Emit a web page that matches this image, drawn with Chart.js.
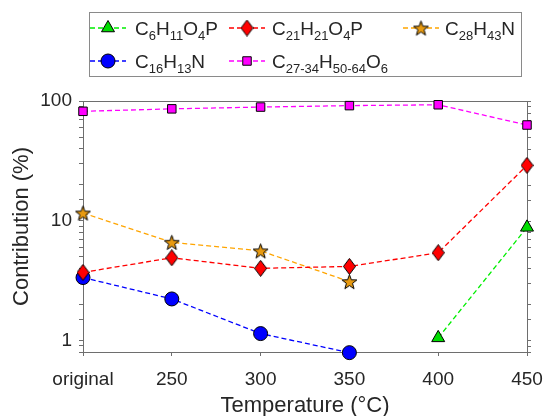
<!DOCTYPE html>
<html>
<head>
<meta charset="utf-8">
<script src="https://cdn.jsdelivr.net/npm/chart.js@4.4.1/dist/chart.umd.min.js"></script>
<style>
  html, body { margin: 0; padding: 0; background: #fff; }
  #caixa { width: 545px; height: 416px; position: relative; }
</style>
</head>
<body>
<div id="caixa"><canvas id="grafico"></canvas></div>
<script>
// dados
const categorias = ["original", "250", "300", "350", "400", "450"];
const c6h11o4p  = [null, null, null, null, 1.05, 8.8];
const c21h21o4p = [3.7, 4.9, 4.0, 4.15, 5.4, 29];
const c28h43n   = [11.6, 6.6, 5.6, 3.1, null, null];
const c16h13n   = [3.35, 2.22, 1.14, 0.79, null, null];
const c27h50o6  = [82, 86, 89, 91.5, 93, 63];
const rotulosY  = [1, 10, 100];

const fonte = "'Liberation Sans', Arial, Helvetica, sans-serif";
const corTexto = "#262626";
const corEixo = "#6e6e6e";

// marcadores próprios (losango e estrela)
function marcaLosango(cor) {
  const c = document.createElement("canvas");
  const w = 13, h = 17;
  c.width = w; c.height = h;
  const g = c.getContext("2d");
  g.beginPath();
  g.moveTo(w / 2, 0.5); g.lineTo(w - 0.5, h / 2); g.lineTo(w / 2, h - 0.5); g.lineTo(0.5, h / 2);
  g.closePath();
  g.fillStyle = cor; g.fill();
  g.strokeStyle = "#000"; g.lineWidth = 1; g.stroke();
  return c;
}
function marcaEstrela(cor) {
  const c = document.createElement("canvas");
  const s = 17;
  c.width = s; c.height = s;
  const g = c.getContext("2d");
  const cx = s / 2, cy = s / 2 + 0.8, rExt = 7.8, rInt = 3.2;
  g.beginPath();
  for (let i = 0; i < 10; i++) {
    const r = i % 2 === 0 ? rExt : rInt;
    const a = -Math.PI / 2 + i * Math.PI / 5;
    const x = cx + r * Math.cos(a), y = cy + r * Math.sin(a);
    if (i === 0) g.moveTo(x, y); else g.lineTo(x, y);
  }
  g.closePath();
  g.fillStyle = cor; g.fill();
  g.strokeStyle = "#000"; g.lineWidth = 1; g.stroke();
  return c;
}

const series = [
  { label: "C_{6}H_{11}O_{4}P", data: c6h11o4p, linha: "#00ee00", fill: "#00dd00", estilo: "triangle", raio: 7.5 },
  { label: "C_{21}H_{21}O_{4}P", data: c21h21o4p, linha: "#ff0000", fill: "#ff0000", estilo: marcaLosango("#ff0000"), raio: 8 },
  { label: "C_{28}H_{43}N", data: c28h43n, linha: "#ffa500", fill: "#e69a00", estilo: marcaEstrela("#e89a10"), raio: 8 },
  { label: "C_{16}H_{13}N", data: c16h13n, linha: "#0000ff", fill: "#0000ff", estilo: "circle", raio: 7 },
  { label: "C_{27-34}H_{50-64}O_{6}", data: c27h50o6, linha: "#ff00ff", fill: "#ff00ff", estilo: "rect", raio: 6 }
];

const datasets = series.map(s => ({
  label: s.label,
  data: s.data,
  borderColor: s.linha,
  borderWidth: 1.3,
  borderDash: [5, 3],
  backgroundColor: s.fill,
  pointStyle: s.estilo,
  pointRadius: s.raio,
  pointBackgroundColor: s.fill,
  pointBorderColor: "#000",
  pointBorderWidth: 1,
  spanGaps: false,
  tension: 0,
  clip: false
}));

// texto com subscritos: "C_{6}H" etc
function desenhaFormula(ctx, txt, x, y) {
  const partes = [];
  const re = /_\{([^}]*)\}/g;
  let ult = 0, m;
  while ((m = re.exec(txt)) !== null) {
    if (m.index > ult) partes.push({ t: txt.slice(ult, m.index), sub: false });
    partes.push({ t: m[1], sub: true });
    ult = re.lastIndex;
  }
  if (ult < txt.length) partes.push({ t: txt.slice(ult), sub: false });
  ctx.textBaseline = "alphabetic";
  ctx.textAlign = "left";
  partes.forEach(p => {
    ctx.font = (p.sub ? "13px " : "19px ") + fonte;
    ctx.fillText(p.t, x, p.sub ? y + 5 : y);
    x += ctx.measureText(p.t).width;
  });
}

const legendaPlugin = {
  id: "legendaFormula",
  afterDraw(chart) {
    const ctx = chart.ctx;
    ctx.save();
    ctx.fillStyle = "#fff";
    ctx.fillRect(89.5, 12.5, 432, 64);
    ctx.strokeStyle = "#8a8a8a";
    ctx.lineWidth = 1;
    ctx.strokeRect(89.5, 12.5, 432, 64);
    const pos = [
      { lx: 90, tx: 135, y: 28 },
      { lx: 229, tx: 272, y: 28 },
      { lx: 403, tx: 445, y: 28 },
      { lx: 90, tx: 135, y: 61 },
      { lx: 229, tx: 272, y: 61 }
    ];
    chart.data.datasets.forEach((ds, i) => {
      const p = pos[i];
      ctx.strokeStyle = ds.borderColor;
      ctx.lineWidth = 1.3;
      ctx.setLineDash([5, 3]);
      ctx.beginPath();
      ctx.moveTo(p.lx, p.y); ctx.lineTo(p.lx + 36, p.y);
      ctx.stroke();
      ctx.setLineDash([]);
      ctx.fillStyle = ds.pointBackgroundColor;
      ctx.strokeStyle = "#000";
      ctx.lineWidth = 1;
      Chart.helpers.drawPoint(ctx, { pointStyle: ds.pointStyle, radius: ds.pointRadius, borderWidth: 1, rotation: 0 }, p.lx + 18, p.y);
      ctx.fillStyle = corTexto;
      desenhaFormula(ctx, ds.label, p.tx, p.y + 7);
    });
    ctx.restore();
  }
};

// moldura e marcas no eixo direito
const molduraPlugin = {
  id: "moldura",
  beforeDatasetsDraw(chart) {
    const { ctx, chartArea: a, scales } = chart;
    ctx.save();
    ctx.strokeStyle = corEixo;
    ctx.lineWidth = 1;
    ctx.beginPath();
    ctx.moveTo(a.left, a.top + 0.5); ctx.lineTo(a.right, a.top + 0.5);
    ctx.moveTo(a.right + 0.5, a.top); ctx.lineTo(a.right + 0.5, a.bottom);
    scales.y.ticks.forEach(t => {
      const py = Math.round(scales.y.getPixelForValue(t.value)) + 0.5;
      ctx.moveTo(a.right, py); ctx.lineTo(a.right + 4, py);
    });
    ctx.stroke();
    ctx.restore();
  }
};

new Chart(document.getElementById("grafico"), {
  type: "line",
  data: { labels: categorias, datasets },
  options: {
    responsive: true,
    maintainAspectRatio: false,
    animation: false,
    layout: { padding: { top: 101, right: 18, left: 0, bottom: 0 } },
    plugins: { legend: { display: false }, tooltip: { enabled: false } },
    scales: {
      x: {
        type: "category",
        offset: false,
        afterFit: s => { s.height = 64; s.paddingLeft = 0; s.paddingRight = 0; },
        grid: { drawOnChartArea: false, drawTicks: true, tickLength: 4, color: corEixo },
        border: { color: corEixo },
        ticks: { color: corTexto, font: { family: fonte, size: 19 }, padding: 12, maxRotation: 0, autoSkip: false },
        title: { display: true, text: "Temperature (°C)", color: corTexto, font: { family: fonte, size: 22 }, padding: { top: 0, bottom: -3 } }
      },
      y: {
        type: "logarithmic",
        min: 0.8,
        max: 100,
        afterFit: s => { s.width = 83; },
        grid: { drawOnChartArea: false, drawTicks: true, tickLength: 4, color: corEixo },
        border: { color: corEixo },
        ticks: {
          color: corTexto,
          font: { family: fonte, size: 19 },
          padding: 7,
          autoSkip: false,
          callback: v => rotulosY.some(r => Math.abs(r - v) < 1e-9) ? String(v) : ""
        },
        title: { display: true, text: "Contribution (%)", color: corTexto, font: { family: fonte, size: 22 }, padding: { top: 9, bottom: 0 } }
      }
    }
  },
  plugins: [molduraPlugin, legendaPlugin]
});
</script>
</body>
</html>
